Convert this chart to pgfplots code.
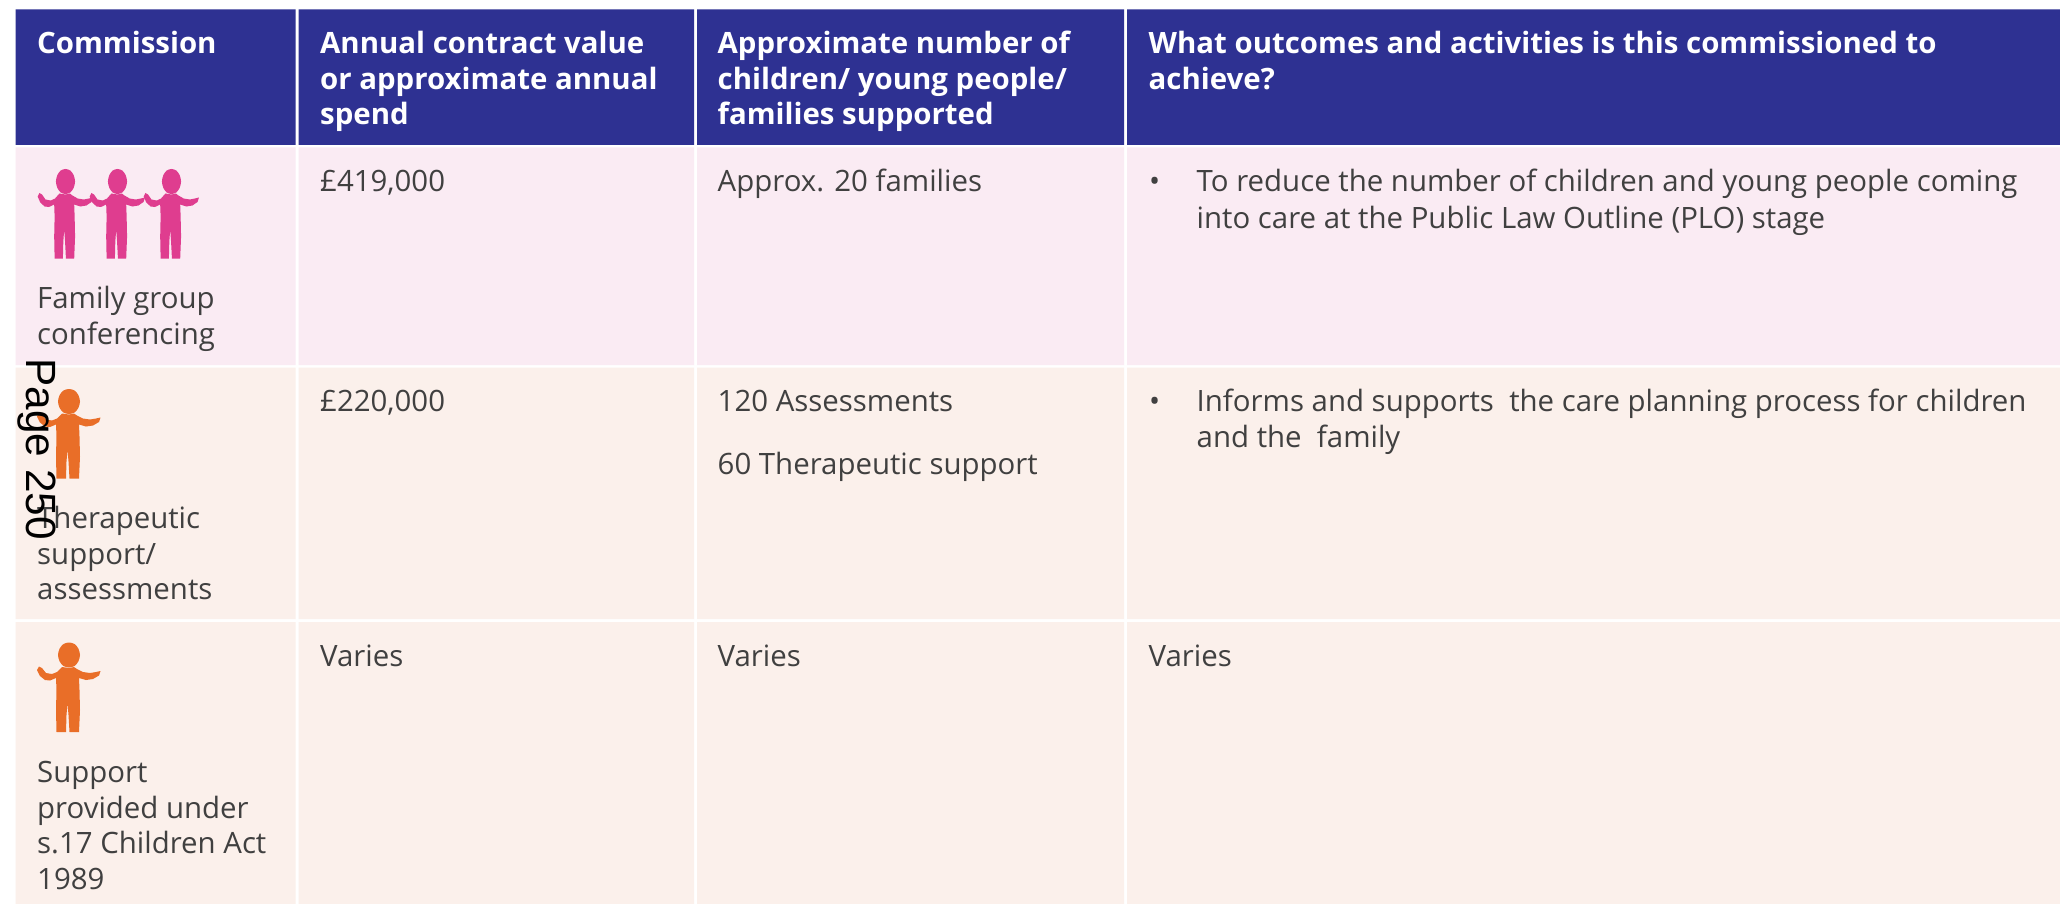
\documentclass[border=0pt]{standalone}
\usepackage{fontspec}
\setmainfont{Open Sans}
\newfontfamily\arialf{Liberation Sans}
\usepackage{pgfplots}
\usepackage{pgfplotstable}
\pgfplotsset{compat=1.18}
\definecolor{hdr}{HTML}{2E3192}
\definecolor{rowp}{HTML}{FAEBF3}
\definecolor{rowo}{HTML}{FBF0EB}
\definecolor{pinkp}{HTML}{DF3D8F}
\definecolor{orangep}{HTML}{E96E28}
\definecolor{txt}{HTML}{404040}
\pgfplotstableread{
x y
62 667
57 672
52 674
46 673
42 668
39 666.5
37 670
40 676
45 680
50 680.5
56 678
56.5 690
56 710
56.5 732
66 732
66.5 715
67.5 703
68.5 715
69.5 732
79 732
80 710
79.5 690
79 678
86 680
93 679
99 675.5
100.5 671
96 672
90 673
83 672
77 669
74 667
69 668
62 667
}\personbody
\pgfplotstableread{
x y
69 642.5
74.5 644
78.4 648.7
80 655
78.4 661.3
74.5 666
69 667.5
63.5 666
59.6 661.3
58 655
59.6 648.7
63.5 644
}\personhead
\newcommand{\cell}[5]{\addplot[fill=#1,draw=none,forget plot] coordinates {(#2,#4) (#3,#4) (#3,#5) (#2,#5) (#2,#4)};}
% colour, centre x, x scale, y shift
\newcommand{\person}[4]{%
  \addplot[fill=#1,draw=none,forget plot] table[x expr=(\thisrow{x}-69)*#3+#2, y expr=\thisrow{y}+#4] {\personbody};
  \addplot[fill=#1,draw=none,forget plot,smooth cycle] table[x expr=(\thisrow{x}-69)*#3+#2, y expr=\thisrow{y}+#4] {\personhead};
}
\newcommand{\hd}[3]{\node[anchor=base west,inner sep=0pt,text=white,font=\fontsize{29.4}{34}\selectfont\bfseries] at (axis cs:#1,#2) {#3};}
\newcommand{\tx}[3]{\node[anchor=base west,inner sep=0pt,text=txt,font=\fontsize{29.4}{34}\selectfont] at (axis cs:#1,#2) {#3};}
\begin{document}
\begin{tikzpicture}
\begin{axis}[
  width=2060pt,height=904pt,scale only axis,
  xmin=0,xmax=2060,ymin=0,ymax=904,y dir=reverse,
  hide axis,clip=true]
\cell{white}{0}{2060}{0}{904}
% header
\cell{hdr}{15.5}{295.5}{9.5}{145}
\cell{hdr}{298.5}{694}{9.5}{145}
\cell{hdr}{697}{1124}{9.5}{145}
\cell{hdr}{1127}{2060}{9.5}{145}
% row 1
\cell{rowp}{15.5}{295.5}{147.5}{365}
\cell{rowp}{298.5}{694}{147.5}{365}
\cell{rowp}{697}{1124}{147.5}{365}
\cell{rowp}{1127}{2060}{147.5}{365}
% row 2
\cell{rowo}{15.5}{295.5}{367.5}{619}
\cell{rowo}{298.5}{694}{367.5}{619}
\cell{rowo}{697}{1124}{367.5}{619}
\cell{rowo}{1127}{2060}{367.5}{619}
% row 3
\cell{rowo}{15.5}{295.5}{622}{904}
\cell{rowo}{298.5}{694}{622}{904}
\cell{rowo}{697}{1124}{622}{904}
\cell{rowo}{1127}{2060}{622}{904}
% figures
\person{pinkp}{65.5}{0.87}{-473.5}
\person{pinkp}{117.5}{0.87}{-473.5}
\person{pinkp}{171.5}{0.87}{-473.5}
\person{orangep}{69}{1}{-253.5}
\person{orangep}{69}{1}{0}
% header text
\hd{37}{54}{Commission}
\hd{320}{54}{Annual contract value}
\hd{320}{89.5}{or approximate annual}
\hd{320}{125}{spend}
\hd{717.5}{54}{Approximate number of}
\hd{717.5}{89.5}{children/ young people/}
\hd{717.5}{125}{families supported}
\hd{1148.5}{54}{What outcomes and activities is this commissioned to}
\hd{1148.5}{89.5}{achieve?}
% row 1 text
\tx{37}{308.5}{Family group}
\tx{37}{344.5}{conferencing}
\tx{320}{192}{£419,000}
\tx{717.5}{192}{Approx. 20 families}
\tx{1149}{192}{•}
\tx{1196.5}{192}{To reduce the number of children and young people coming}
\tx{1196.5}{228}{into care at the Public Law Outline (PLO) stage}
% row 2 text
\tx{37}{528.5}{Therapeutic}
\tx{37}{564}{support/}
\tx{37}{599}{assessments}
\tx{320}{411.5}{£220,000}
\tx{717.5}{411.5}{120 Assessments}
\tx{717.5}{474.5}{60 Therapeutic support}
\tx{1149}{411.5}{•}
\tx{1196.5}{411.5}{Informs and supports\ \ the care planning process for children}
\tx{1196.5}{447.5}{and the\ \ family}
% row 3 text
\tx{37}{782.5}{Support}
\tx{37}{818}{provided under}
\tx{37}{853}{s.17 Children Act}
\tx{37}{889}{1989}
\tx{320}{666.5}{Varies}
\tx{717.5}{666.5}{Varies}
\tx{1148.5}{666.5}{Varies}
% page stamp
\node[anchor=base west,inner sep=0pt,rotate=-90,text=black,font=\fontsize{42.3}{46}\arialf] at (axis cs:27,358.5) {Page 250};
\end{axis}
\end{tikzpicture}
\end{document}
